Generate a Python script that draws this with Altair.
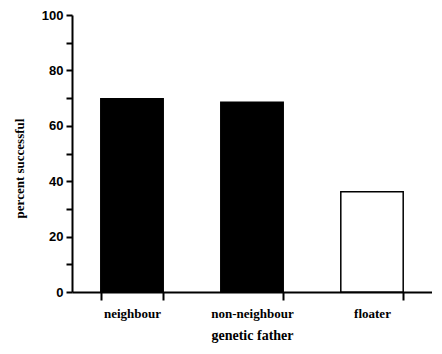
import altair as alt
import pandas as pd

categories = ["neighbour", "non-neighbour", "floater"]
percent = [69.8, 68.5, 36.2]
fills = ["black", "black", "white"]

df = pd.DataFrame({"father": categories, "percent": percent})

serif = "Liberation Serif"
sans = "Liberation Sans"

chart = alt.Chart(df).mark_bar(stroke="black", strokeWidth=1.5).encode(
    x=alt.X("father:N", sort=categories,
            scale=alt.Scale(paddingInner=0.48, paddingOuter=0.24),
            axis=alt.Axis(title="genetic father", labelAngle=0, tickBand="extent",
                          labelFont=serif, labelFontSize=13, labelFontWeight="bold",
                          labelColor="black", labelPadding=7,
                          titleFont=serif, titleFontSize=14, titleFontWeight="bold",
                          titleColor="black", titlePadding=8,
                          domainColor="black", domainWidth=2,
                          tickColor="black", tickWidth=2, tickSize=8)),
    y=alt.Y("percent:Q",
            scale=alt.Scale(domain=[0, 100], nice=False),
            axis=alt.Axis(title="percent successful",
                          values=list(range(0, 101, 10)),
                          labelExpr="datum.value % 20 == 0 ? datum.label : ''",
                          grid=False,
                          labelFont=sans, labelFontSize=13, labelFontWeight="bold",
                          labelColor="black", labelPadding=3,
                          titleFont=serif, titleFontSize=13, titleFontWeight="bold",
                          titleColor="black", titleX=-46, titleY=153,
                          domainColor="black", domainWidth=2,
                          tickColor="black", tickWidth=2, tickSize=6)),
    fill=alt.Fill("father:N", scale=alt.Scale(domain=categories, range=fills), legend=None),
).properties(
    width=360, height=277,
    autosize=alt.AutoSizeParams(type="none"),
    padding={"left": 64, "top": 7, "right": 0, "bottom": 54},
).configure_view(stroke=None).configure_axis(grid=False)

chart.save("out.html", embed_options={"renderer": "svg", "actions": False})
